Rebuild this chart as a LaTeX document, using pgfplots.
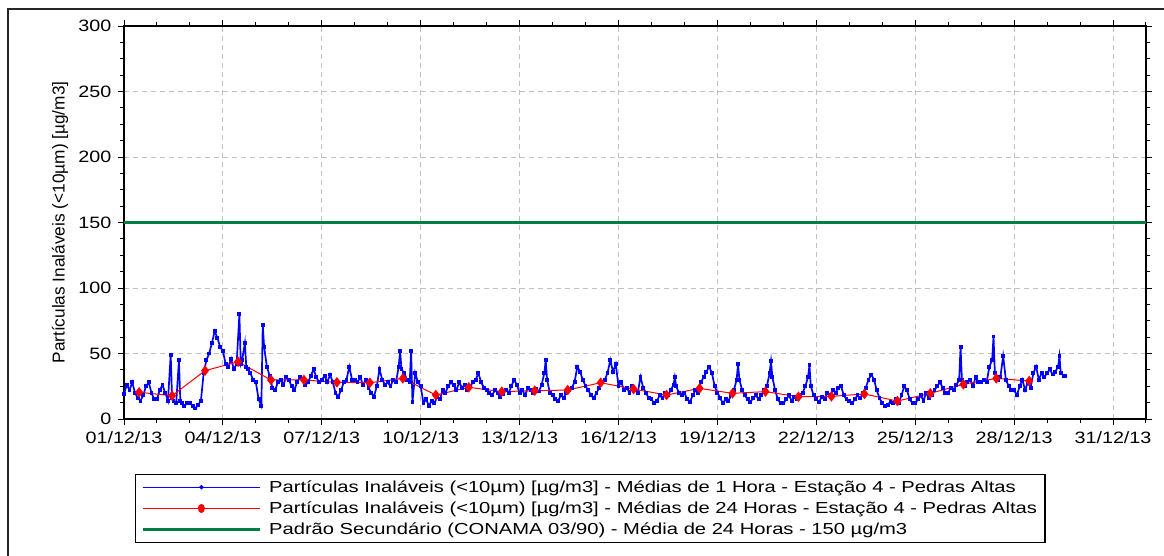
\documentclass[border=0pt]{standalone}
\usepackage{pgfplots}
\pgfplotsset{compat=1.18}
\usepackage{pgfplotstable}
\usepackage{graphicx}
\usepackage{fontspec}
\setmainfont{Liberation Sans}
\definecolor{cblue}{RGB}{0,0,255}
\definecolor{cred}{RGB}{255,0,0}
\definecolor{cgreen}{RGB}{0,128,64}
\definecolor{cgrid}{RGB}{192,192,192}
\newcommand\sx[1]{\scalebox{1.265}[1]{#1}}

\pgfplotstableread[row sep=\\]{h v\\
0 19\\ 2 26\\ 4 22\\ 6 28\\ 8 20\\ 10 16\\ 12 14\\ 14 18\\ 16 25\\ 18 28\\ 20 20\\ 22 15\\
24 15\\ 26 22\\ 28 26\\ 30 20\\ 32 14\\ 34 49\\ 35 16\\ 36 14\\ 38 12\\ 40 45\\ 41 14\\ 42 12\\ 44 10\\ 46 12\\
48 12\\ 50 10\\ 52 8\\ 54 11\\ 56 14\\ 58 35\\ 60 45\\ 62 50\\ 64 58\\ 66 67\\ 68 62\\ 70 55\\
72 52\\ 74 42\\ 76 40\\ 78 46\\ 80 38\\ 82 42\\ 84 80\\ 85 42\\ 86 45\\ 88 58\\ 89 40\\ 90 38\\ 92 35\\ 94 30\\
96 28\\ 98 15\\ 100 10\\ 101 72\\ 102 55\\ 104 40\\ 106 33\\ 108 24\\ 110 22\\ 112 28\\ 114 30\\ 116 26\\ 118 32\\
120 30\\ 122 25\\ 124 22\\ 126 28\\ 128 32\\ 130 30\\ 132 26\\ 134 28\\ 136 33\\ 138 38\\ 140 32\\ 142 28\\
144 30\\ 146 33\\ 148 28\\ 150 34\\ 152 28\\ 154 20\\ 156 17\\ 158 22\\ 160 28\\ 162 30\\ 164 40\\ 166 30\\
168 30\\ 170 28\\ 172 32\\ 174 26\\ 176 30\\ 178 24\\ 180 20\\ 182 17\\ 184 25\\ 186 38\\ 188 30\\ 190 26\\
192 28\\ 194 25\\ 196 30\\ 198 28\\ 200 40\\ 201 52\\ 202 38\\ 204 35\\ 206 30\\ 208 28\\ 209 52\\ 210 13\\ 212 35\\ 214 28\\
216 25\\ 218 12\\ 220 15\\ 222 10\\ 224 14\\ 226 12\\ 228 17\\ 230 15\\ 232 22\\ 234 20\\ 236 25\\ 238 28\\
240 26\\ 242 22\\ 244 28\\ 246 24\\ 248 26\\ 250 22\\ 252 25\\ 254 28\\ 256 30\\ 258 35\\ 260 28\\ 262 24\\
264 22\\ 266 20\\ 268 18\\ 270 22\\ 272 20\\ 274 17\\ 276 19\\ 278 22\\ 280 20\\ 282 25\\ 284 30\\ 286 26\\
288 20\\ 290 22\\ 292 18\\ 294 24\\ 296 22\\ 298 20\\ 300 23\\ 302 21\\ 304 26\\ 306 35\\ 307 45\\ 308 30\\ 310 20\\
312 18\\ 314 15\\ 316 14\\ 318 18\\ 320 16\\ 322 20\\ 324 22\\ 326 24\\ 328 28\\ 330 40\\ 332 36\\ 334 30\\
336 25\\ 338 22\\ 340 18\\ 342 16\\ 344 20\\ 346 24\\ 348 28\\ 350 30\\ 352 35\\ 354 45\\ 356 36\\ 358 42\\
360 25\\ 362 28\\ 364 22\\ 366 24\\ 368 20\\ 370 25\\ 372 22\\ 374 20\\ 376 32\\ 378 24\\ 380 20\\ 382 16\\
384 15\\ 386 12\\ 388 14\\ 390 18\\ 392 16\\ 394 20\\ 396 18\\ 398 22\\ 400 26\\ 401 32\\ 402 25\\ 404 20\\ 406 18\\
408 20\\ 410 15\\ 412 13\\ 414 18\\ 416 22\\ 418 20\\ 420 28\\ 422 32\\ 424 36\\ 426 40\\ 428 35\\ 430 25\\
432 20\\ 434 16\\ 436 12\\ 438 15\\ 440 14\\ 442 18\\ 444 22\\ 446 30\\ 447 42\\ 448 30\\ 450 22\\ 452 18\\ 454 15\\
456 13\\ 458 16\\ 460 18\\ 462 15\\ 464 18\\ 466 22\\ 468 25\\ 470 35\\ 471 44\\ 472 32\\ 474 22\\ 476 15\\ 478 12\\
480 12\\ 482 15\\ 484 18\\ 486 14\\ 488 17\\ 490 15\\ 492 18\\ 494 20\\ 496 25\\ 498 32\\ 499 41\\ 500 25\\ 502 18\\
504 15\\ 506 13\\ 508 17\\ 510 15\\ 512 20\\ 514 18\\ 516 22\\ 518 20\\ 520 24\\ 522 25\\ 524 18\\ 526 15\\
528 14\\ 530 12\\ 532 15\\ 534 18\\ 536 16\\ 538 20\\ 540 24\\ 542 30\\ 544 34\\ 546 30\\ 548 22\\ 550 16\\
552 12\\ 554 10\\ 556 11\\ 558 13\\ 560 12\\ 562 15\\ 564 12\\ 566 18\\ 568 25\\ 570 22\\ 572 15\\ 574 12\\
576 12\\ 578 15\\ 580 18\\ 582 14\\ 584 20\\ 586 16\\ 588 18\\ 590 22\\ 592 25\\ 594 28\\ 596 24\\ 598 20\\
600 20\\ 602 24\\ 604 22\\ 606 26\\ 608 30\\ 609 55\\ 610 30\\ 612 25\\ 614 28\\ 616 30\\ 618 25\\ 620 32\\ 622 28\\
624 28\\ 626 30\\ 628 28\\ 630 40\\ 632 45\\ 633 63\\ 634 35\\ 636 30\\ 638 32\\ 640 48\\ 642 30\\ 644 25\\ 646 22\\
648 22\\ 650 18\\ 652 25\\ 654 30\\ 656 22\\ 658 28\\ 660 24\\ 662 35\\ 664 40\\ 666 30\\ 668 35\\ 670 32\\
672 35\\ 674 38\\ 676 34\\ 678 36\\ 680 40\\ 681 48\\ 682 35\\ 684 33\\ 685 33\\
}\hourly

\pgfplotstableread[row sep=\\]{h v\\
11 20.4\\ 35 17.8\\ 59 36.9\\ 83 43.7\\ 107 29.8\\ 131 29.8\\ 155 28\\ 179 27.7\\
203 31\\ 227 18.3\\ 251 24.2\\ 275 20.9\\ 299 21.6\\ 323 22.1\\ 347 27.7\\ 371 22.9\\
395 18.3\\ 419 23.4\\ 443 19.6\\ 467 20.9\\ 491 17\\ 515 17.3\\ 539 19.1\\ 563 13.7\\
587 19.6\\ 611 26.5\\ 635 31\\ 659 29\\
}\daily

\begin{document}
\begin{tikzpicture}
\path[use as bounding box] (0,0) rectangle (1164bp,-556bp);
\draw[line width=1.5bp, black!85] (8bp,-556bp) -- (8bp,-9bp) -- (1164bp,-9bp);
\begin{axis}[
  at={(124bp,-419bp)}, anchor=south west,
  scale only axis, width=1022bp, height=393bp,
  xmin=0, xmax=744, ymin=0, ymax=300,
  xtick={0,72,...,720},
  xticklabels={01/12/13,04/12/13,07/12/13,10/12/13,13/12/13,16/12/13,19/12/13,22/12/13,25/12/13,28/12/13,31/12/13},
  minor xtick={0,24,...,744},
  ytick={0,50,...,300},
  minor ytick={0,12.5,...,300},
  tick align=outside,
  major tick length=6bp, minor tick length=4bp,
  every tick/.style={black, line width=1bp},
  axis line style={line width=2.5bp},
  grid=major,
  major grid style={cgrid, dash pattern=on 5bp off 4bp, line width=1bp},
  tick label style={font=\fontsize{16.5}{19}\selectfont, xscale=1.2, text=black},
  yticklabel style={/pgf/number format/assume math mode=true, xshift=-2bp},
  xticklabel style={yshift=-3bp},
  ylabel={Partículas Inaláveis (<10µm) [µg/m3]},
  ylabel style={font=\fontsize{17.3}{20}\selectfont, at={(axis description cs:-0.0626,0.5)}, anchor=center},
  legend style={at={(axis description cs:0.0108,-0.14)}, anchor=north west,
    draw=black, line width=1.2bp, font=\fontsize{16}{19}\selectfont,
    inner xsep=6bp, inner ysep=4bp, row sep=4bp, column sep=6bp},
  legend cell align=left,
]
\addplot[cblue, line width=1.7bp, mark=square*, mark size=1.1bp,
  legend image code/.code={\draw[cblue, line width=1.2bp] (0bp,0bp) -- (117bp,0bp); \fill[cblue] (58.5bp,0bp) circle (1.2bp);}]
  table[x=h, y=v] {\hourly};
\addlegendentry{\sx{Partículas Inaláveis (<10µm) [µg/m3] - Médias de 1 Hora - Estação 4 - Pedras Altas}}
\addplot[cred, line width=1bp, mark=diamond*, mark size=4.5bp,
  legend image code/.code={\draw[cred, line width=1bp] (0bp,0bp) -- (117bp,0bp); \fill[cred] (58.5bp,0bp) ellipse (3bp and 4bp);}]
  table[x=h, y=v] {\daily};
\addlegendentry{\sx{Partículas Inaláveis (<10µm) [µg/m3] - Médias de 24 Horas - Estação 4 - Pedras Altas}}
\addplot[cgreen, line width=2.5bp,
  legend image code/.code={\draw[cgreen, line width=2.5bp] (0bp,0bp) -- (117bp,0bp);}]
  coordinates {(0,150) (744,150)};
\addlegendentry{\sx{Padrão Secundário (CONAMA 03/90) - Média de 24 Horas - 150 µg/m3}}
\end{axis}
\end{tikzpicture}
\end{document}
